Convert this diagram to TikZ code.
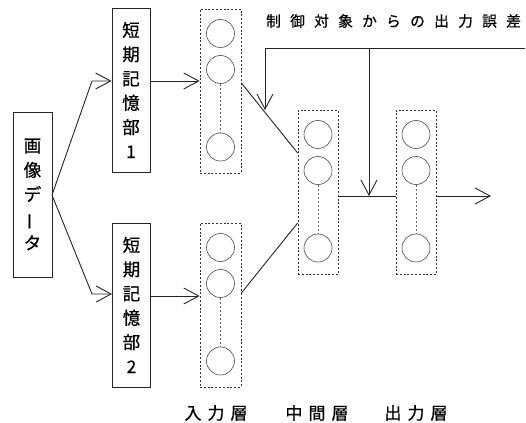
\documentclass[tikz,border=0pt]{standalone}
\usepackage{fontspec}
\setmainfont[FakeBold=0.6]{Noto Sans CJK JP}
\usepackage{graphicx}
\usetikzlibrary{arrows.meta}
\newcommand{\vbar}{\rotatebox[origin=c]{90}{ー}}
\newcommand{\gp}{\hspace{9.3pt}}
\newcommand{\gq}{\hspace{6pt}}
\begin{document}
\begin{tikzpicture}[x=1pt,y=-1pt,
  box/.style={draw=black!85, line width=0.9pt, minimum width=38pt, minimum height=164pt, inner sep=0pt, align=center,
    font=\fontsize{17.5}{24.3}\selectfont},
  layer/.style={draw=black!80, line width=0.7pt, dash pattern=on 2pt off 1.8pt, minimum width=41pt, minimum height=164pt, inner sep=0pt},
  neuron/.style={draw=black!70, circle, minimum size=28pt, inner sep=0pt, line width=0.6pt},
  dotline/.style={draw=black!60, line width=0.7pt, dash pattern=on 2pt off 2pt},
  conn/.style={draw=black!85, line width=0.9pt},
  arr/.style={conn, -{Straight Barb[length=15pt,width=16pt,line width=0.9pt]}},
  lbl/.style={font=\fontsize{17}{17}\selectfont, inner sep=0pt}
]
\useasboundingbox (0,0) rectangle (526,422);
\fill[white] (0,0) rectangle (526,422);

% image data box
\node[box, minimum width=39pt, minimum height=165pt] (img) at (32.5,194.5) {画\\像\\デ\\\vbar\\タ};
% short-term memory boxes
\node[box] (m1) at (131,90) {短\\期\\記\\憶\\部\\1};
\node[box] (m2) at (131.5,305) {短\\期\\記\\憶\\部\\2};

% layers
\node[layer] (in1) at (220.5,91) {};
\node[layer] (in2) at (220.5,305) {};
\node[layer, minimum width=40pt] (mid) at (318,192.5) {};
\node[layer, minimum width=40pt] (out) at (416,192.5) {};

% neurons
\foreach \L/\x/\t in {in1/220.5/9, in2/220.5/223, mid/318/110, out/416/110}{
  \node[neuron] (\L a) at (\x,\t+24.5) {};
  \node[neuron] (\L b) at (\x,\t+60.5) {};
  \node[neuron] (\L c) at (\x,\t+138) {};
  \path[dotline] (\L b.south) -- (\L c.north);
}

% coordinates
\coordinate (br) at (52,195);
\coordinate (up) at (92,81);
\coordinate (dn) at (92,294);
\coordinate (fbL) at (265,48);
\coordinate (fbM) at (369,48);
\coordinate (fbR) at (525,48);
\coordinate (jn) at (369,196);
\coordinate (outE) at (491,196);

% connectors
\draw[arr] (br) -- (up) -- (m1.west |- up);
\draw[arr] (br) -- (dn) -- (m2.west |- dn);
\draw[arr] (m1.east |- 0,81) -- (in1.west |- 0,81);
\draw[arr] (m2.east |- 0,296) -- (in2.west |- 0,296);
\draw[conn] (in1.east |- 0,83) -- (mid.west |- 0,153);
\draw[conn] (in2.east |- 0,293) -- (mid.west |- 0,223);
\draw[conn] (mid.east |- jn) -- (out.west |- jn);
\draw[arr] (out.east |- jn) -- (outE);
\draw[conn] (fbR) -- (fbL);
\draw[arr] (fbL) -- (265,110);
\draw[arr] (fbM) -- (jn);

% labels
\node[font=\fontsize{14.7}{14.7}\selectfont, inner sep=0pt, anchor=west] (err) at (266,21)
  {制\gp 御\gp 対\gp 象\gp か\gp ら\gp の\gp 出\gp 力\gp 誤\gp 差};
\node[lbl] (lin) at (216,413) {入\gq 力\gq 層};
\node[lbl] (lmid) at (317,413) {中\gq 間\gq 層};
\node[lbl] (lout) at (416,413) {出\gq 力\gq 層};
\end{tikzpicture}
\end{document}
